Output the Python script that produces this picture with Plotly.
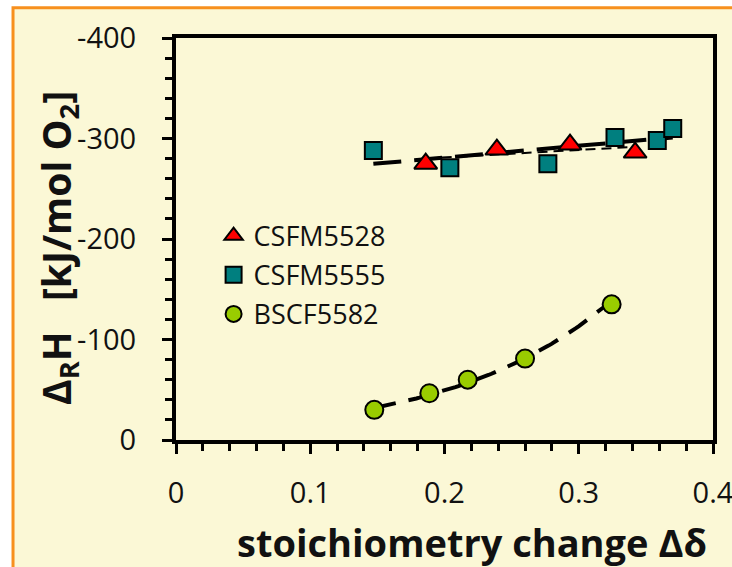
import numpy as np
import plotly.graph_objects as go

# stoichiometry change (delta) and reaction enthalpy [kJ/mol O2]
csfm5528_x = [0.186, 0.239, 0.2935, 0.342]
csfm5528_y = [-275, -289, -294, -286]

csfm5555_x = [0.147, 0.204, 0.277, 0.327, 0.3585, 0.370]
csfm5555_y = [-288, -271, -275, -301, -298, -310]

bscf5582_x = [0.1477, 0.1887, 0.2173, 0.260, 0.3245]
bscf5582_y = [-30, -46.5, -60, -81, -135]

series_names = ["CSFM5528", "CSFM5555", "BSCF5582"]

y_tickvals = [0, -100, -200, -300, -400]
y_ticktext = ["0", "-100", "-200", "-300", "-400"]
x_tickvals = [0, 0.1, 0.2, 0.3, 0.4]
x_ticktext = ["0", "0.1", "0.2", "0.3", "0.4"]

BG = "#FBF8D6"
ORANGE = "#F7901E"
TICK_FONT = dict(family="Open Sans", size=29, color="#111111")


def linear_fit(xs, ys, n=50):
    k, b = np.polyfit(xs, ys, 1)
    xf = np.linspace(min(xs), max(xs), n)
    return xf, k * xf + b


def exp_fit(xs, ys, n=80):
    k, b = np.polyfit(xs, np.log(-np.asarray(ys)), 1)
    xf = np.linspace(min(xs), max(xs), n)
    return xf, -np.exp(k * xf + b)


fig = go.Figure()

# trend lines
fx, fy = linear_fit(csfm5555_x, csfm5555_y)
fig.add_trace(go.Scatter(x=fx, y=fy, mode="lines", showlegend=False, hoverinfo="skip",
                         line=dict(color="black", width=4, dash="28px,13px")))
fx, fy = linear_fit(csfm5528_x, csfm5528_y)
fig.add_trace(go.Scatter(x=fx, y=fy, mode="lines", showlegend=False, hoverinfo="skip",
                         line=dict(color="black", width=2, dash="10px,6px")))
fx, fy = exp_fit(bscf5582_x, bscf5582_y)
fig.add_trace(go.Scatter(x=fx, y=fy, mode="lines", showlegend=False, hoverinfo="skip",
                         line=dict(color="black", width=4, dash="22px,13px")))

# data points
fig.add_trace(go.Scatter(
    x=csfm5528_x, y=csfm5528_y, mode="markers", name=series_names[0], legendgroup="a",
    marker=dict(symbol="triangle-up", size=20, color="#FF0000",
                line=dict(color="black", width=2))))
fig.add_trace(go.Scatter(
    x=csfm5555_x, y=csfm5555_y, mode="markers", name=series_names[1], legendgroup="b",
    marker=dict(symbol="square", size=17, color="#007F7F",
                line=dict(color="black", width=2))))
fig.add_trace(go.Scatter(
    x=bscf5582_x, y=bscf5582_y, mode="markers", name=series_names[2], legendgroup="c",
    marker=dict(symbol="circle", size=18, color="#99CC00",
                line=dict(color="black", width=2))))

axis_common = dict(
    showline=True, linecolor="black", linewidth=4, mirror=True,
    showgrid=False, zeroline=False, automargin=False,
    ticks="outside", tickwidth=3, ticklen=10, tickcolor="black",
    tickfont=TICK_FONT, ticklabeloverflow="allow",
)

fig.update_xaxes(
    range=[0, 0.4], tickvals=x_tickvals, ticktext=x_ticktext,
    minor=dict(dtick=0.02, ticks="outside", ticklen=7, tickwidth=3, tickcolor="black"),
    ticklabelstandoff=14,
    **axis_common,
)
fig.update_yaxes(
    range=[0, -400], tickvals=y_tickvals, ticktext=y_ticktext,
    minor=dict(dtick=20, ticks="outside", ticklen=7, tickwidth=3, tickcolor="black"),
    ticklabelstandoff=20,
    **axis_common,
)

fig.update_layout(
    width=732, height=567,
    margin=dict(l=176, r=19, t=38, b=127, pad=0),
    paper_bgcolor="white",
    plot_bgcolor=BG,
    showlegend=True,
    legend=dict(
        x=0.07, y=0.568, xanchor="left", yanchor="top",
        bgcolor="rgba(0,0,0,0)", borderwidth=0,
        font=dict(family="Open Sans", size=27, color="#111111"),
        traceorder="grouped", tracegroupgap=1,
        itemsizing="trace",
    ),
    shapes=[dict(
        type="rect", xref="paper", yref="paper", layer="below",
        x0=-0.3035, x1=1.3, y0=-0.6, y1=1.0755,
        line=dict(color=ORANGE, width=3), fillcolor=BG,
    )],
    annotations=[
        dict(text="stoichiometry change \u0394\u03b4", xref="paper", yref="paper",
             x=(472 - 176) / 537, y=(440 - 542) / 402, xanchor="center", yanchor="middle",
             showarrow=False,
             font=dict(family="Open Sans", size=38, color="#111111", weight="bold")),
        dict(text="\u0394<sub>R</sub>H\u00a0\u00a0\u00a0[kJ/mol O<sub>2</sub>]",
             xref="paper", yref="paper",
             x=(58 - 176) / 537, y=(440 - 248) / 402, xanchor="center", yanchor="middle",
             textangle=-90, showarrow=False,
             font=dict(family="Open Sans", size=39, color="#111111", weight="bold")),
    ],
)

fig.write_html("out.html")
